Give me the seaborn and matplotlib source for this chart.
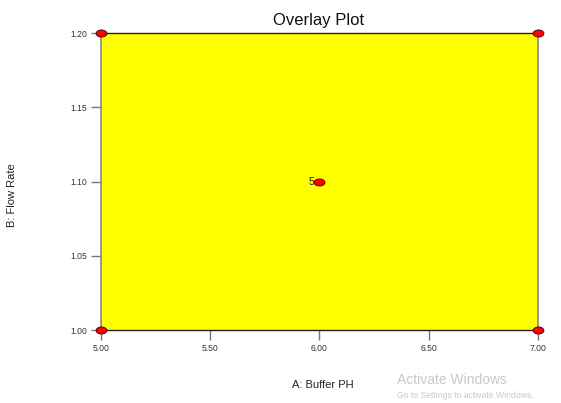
import numpy as np
import pandas as pd
import matplotlib
matplotlib.use("Agg")
import matplotlib.pyplot as plt
from matplotlib.path import Path
import seaborn as sns

# design points (A: Buffer PH, B: Flow Rate) and replicate counts
buffer_ph = [5.0, 5.0, 7.0, 7.0, 6.0]
flow_rate = [1.00, 1.20, 1.00, 1.20, 1.10]
replicates = [1, 1, 1, 1, 5]

x_ticks = [5.00, 5.50, 6.00, 6.50, 7.00]
y_ticks = [1.00, 1.05, 1.10, 1.15, 1.20]

df = pd.DataFrame({"A": buffer_ph, "B": flow_rate, "n": replicates})

sns.set_theme(style="white")
plt.rcParams["font.family"] = ["Arial", "Liberation Sans", "DejaVu Sans"]

fig = plt.figure(figsize=(5.61, 4.03), dpi=100)
ax = fig.add_axes([0.180, 0.181, 0.779, 0.737])
ax.set_facecolor("#ffff00")

# flattened ellipse marker
t = np.linspace(0, 2 * np.pi, 60)
ellipse = Path(np.column_stack([np.cos(t), 0.65 * np.sin(t)]), closed=True)

sns.scatterplot(data=df, x="A", y="B", ax=ax, marker=ellipse, s=60,
                color="#ff0000", edgecolor="#5a0000", linewidth=0.7,
                clip_on=False, zorder=5, legend=False)

for _, r in df.iterrows():
    if r["n"] > 1:
        ax.text(r["A"] - 0.025, r["B"], f"{int(r['n'])}", ha="right",
                va="center", fontsize=7.5, color="#222222")

ax.set_xlim(5.0, 7.0)
ax.set_ylim(1.0, 1.2)
ax.set_xticks(x_ticks)
ax.set_yticks(y_ticks)
ax.set_xticklabels([f"{v:.2f}" for v in x_ticks], fontsize=6.2, color="#333333")
ax.set_yticklabels([f"{v:.2f}" for v in y_ticks], fontsize=6.2, color="#333333")
ax.tick_params(axis="both", direction="out", length=7, width=1,
               color="#777777", pad=3, bottom=True, left=True)

for side in ["top", "bottom"]:
    ax.spines[side].set_color("#222222")
    ax.spines[side].set_linewidth(1)
for side in ["left", "right"]:
    ax.spines[side].set_color("#888888")
    ax.spines[side].set_linewidth(1.2)

ax.set_xlabel("")
ax.set_ylabel("")
fig.text(0.568, 0.950, "Overlay Plot", ha="center", va="center",
         fontsize=12, color="#111111")
fig.text(0.575, 0.045, "A: Buffer PH", ha="center", va="center",
         fontsize=8, color="#222222")
fig.text(0.022, 0.515, "B: Flow Rate", ha="center", va="center",
         rotation=90, fontsize=8, color="#222222")

fig.text(0.708, 0.056, "Activate Windows", ha="left", va="center",
         fontsize=10, color="#c8c8c8")
fig.text(0.708, 0.018, "Go to Settings to activate Windows.", ha="left",
         va="center", fontsize=6.2, color="#c8c8c8")

fig.savefig("out.png", dpi=100)
